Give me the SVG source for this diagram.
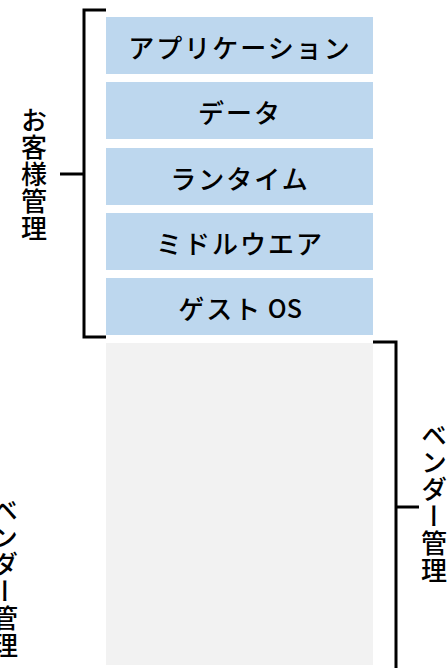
<svg xmlns="http://www.w3.org/2000/svg" width="448" height="668" viewBox="0 0 448 668">
<style>
.box{fill:#bdd7ee}
.gray{fill:#f2f2f2}
.t{font-family:"Noto Sans CJK JP","Noto Sans",sans-serif;font-size:26px;font-weight:500;fill:#000;text-anchor:middle;dominant-baseline:central;letter-spacing:2px}
.v{font-family:"Noto Sans CJK JP","Noto Sans",sans-serif;font-size:26px;font-weight:500;fill:#000;text-anchor:middle;writing-mode:vertical-rl;letter-spacing:1px}
.br{fill:none;stroke:#000;stroke-width:3}
</style>
<g id="vendor-area"><rect class="gray" x="106" y="343" width="267" height="322"/></g>
<g id="app"><rect class="box" x="106" y="17" width="267" height="57"/><text class="t" x="240" y="46">アプリケーション</text></g>
<g id="data"><rect class="box" x="106" y="82" width="267" height="57"/><text class="t" x="240" y="111">データ</text></g>
<g id="runtime"><rect class="box" x="106" y="148" width="267" height="57"/><text class="t" x="240" y="177">ランタイム</text></g>
<g id="middleware"><rect class="box" x="106" y="213" width="267" height="57"/><text class="t" x="240" y="242">ミドルウエア</text></g>
<g id="guestos"><rect class="box" x="106" y="278" width="267" height="57"/><text class="t" x="240" y="307">ゲスト<tspan style="letter-spacing:0" font-size="25"> OS</tspan></text></g>
<g id="connectors">
<path class="br" d="M106,10 H84 V337 H106"/>
<path class="br" d="M84,174 H60"/>
<path class="br" d="M373,342 H396 V668"/>
<path class="br" d="M396,507 H419"/>
</g>
<g id="labels">
<text class="v" x="34" y="175">お客様管理</text>
<text class="v" x="434" y="503">ベンダー管理</text>
<text class="v" x="5" y="578">ベンダー管理</text>
</g>
</svg>
